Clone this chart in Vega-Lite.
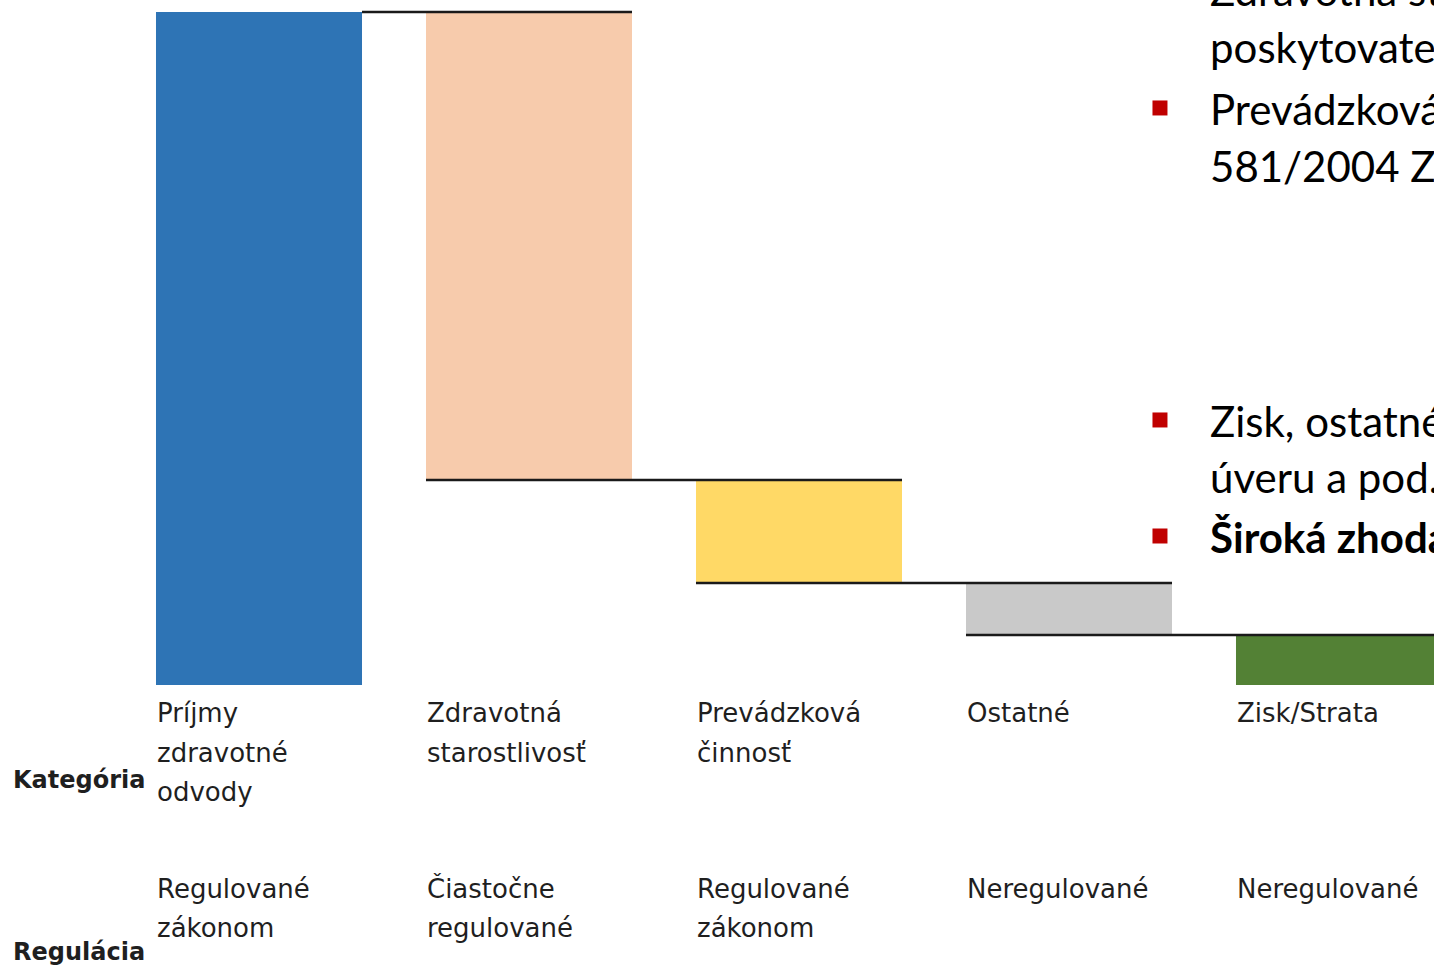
{
  "$schema": "https://vega.github.io/schema/vega-lite/v6.json",
  "width": 1434,
  "height": 966,
  "padding": 0,
  "autosize": {"type": "none"},
  "background": "#ffffff",
  "config": {"view": {"stroke": null}},
  "datasets": {
    "bars": [
      {"cat": "Príjmy", "kat": "Príjmy\nzdravotné\nodvody", "reg": "Regulované\nzákonom", "start": 0, "end": 100},
      {"cat": "Zdravotná", "kat": "Zdravotná\nstarostlivosť", "reg": "Čiastočne\nregulované", "start": 30.46, "end": 100},
      {"cat": "Prevádzková", "kat": "Prevádzková\nčinnosť", "reg": "Regulované\nzákonom", "start": 15.16, "end": 30.46},
      {"cat": "Ostatné", "kat": "Ostatné", "reg": "Neregulované", "start": 7.43, "end": 15.16},
      {"cat": "Zisk/Strata", "kat": "Zisk/Strata", "reg": "Neregulované", "start": 0, "end": 7.43}
    ],
    "links": [
      {"from": "Zdravotná", "to": "Prevádzková", "lvl": 30.46},
      {"from": "Prevádzková", "to": "Ostatné", "lvl": 15.16},
      {"from": "Ostatné", "to": "Zisk/Strata", "lvl": 7.43}
    ],
    "toplink": [
      {"from": "Príjmy", "to": "Zdravotná", "lvl": 100}
    ]
  },
  "layer": [
    {
      "data": {"name": "bars"},
      "mark": {"type": "bar"},
      "encoding": {
        "x": {
          "field": "cat", "type": "nominal",
          "scale": {"domain": ["Príjmy", "Zdravotná", "Prevádzková", "Ostatné", "Zisk/Strata"], "range": [124, 1474], "paddingInner": 0.237, "paddingOuter": 0.1185},
          "axis": null
        },
        "y": {
          "field": "start", "type": "quantitative",
          "scale": {"domain": [0, 100], "range": [685, 12], "nice": false, "zero": false},
          "axis": null
        },
        "y2": {"field": "end"},
        "color": {
          "field": "cat", "type": "nominal",
          "scale": {"domain": ["Príjmy", "Zdravotná", "Prevádzková", "Ostatné", "Zisk/Strata"], "range": ["#2E74B5", "#F7CBAC", "#FFD966", "#C9C9C9", "#538135"]},
          "legend": null
        }
      }
    },
    {
      "data": {"name": "links"},
      "mark": {"type": "rule", "color": "#1a1a1a", "strokeWidth": 2.5},
      "encoding": {
        "x": {"field": "from", "type": "nominal", "bandPosition": 0},
        "x2": {"field": "to", "bandPosition": 1},
        "y": {"field": "lvl", "type": "quantitative"}
      }
    },
    {
      "data": {"name": "toplink"},
      "mark": {"type": "rule", "color": "#1a1a1a", "strokeWidth": 2.5},
      "encoding": {
        "x": {"field": "from", "type": "nominal", "bandPosition": 1},
        "x2": {"field": "to", "bandPosition": 1},
        "y": {"field": "lvl", "type": "quantitative"}
      }
    },
    {
      "data": {"name": "bars"},
      "mark": {"type": "text", "align": "left", "baseline": "alphabetic", "font": "DejaVu Sans", "fontSize": 26, "lineHeight": 39.5, "lineBreak": "\n", "color": "#1f1f1f", "dx": 1},
      "encoding": {
        "x": {"field": "cat", "type": "nominal", "bandPosition": 0},
        "y": {"datum": -5.5, "type": "quantitative"},
        "text": {"field": "kat"}
      }
    },
    {
      "data": {"name": "bars"},
      "mark": {"type": "text", "align": "left", "baseline": "alphabetic", "font": "DejaVu Sans", "fontSize": 26, "lineHeight": 38.5, "lineBreak": "\n", "color": "#1f1f1f", "dx": 1},
      "encoding": {
        "x": {"field": "cat", "type": "nominal", "bandPosition": 0},
        "y": {"datum": -31.65, "type": "quantitative"},
        "text": {"field": "reg"}
      }
    },
    {
      "data": {"values": [{"lab": "Kategória"}]},
      "mark": {"type": "text", "align": "left", "baseline": "alphabetic", "font": "DejaVu Sans", "fontSize": 24, "fontWeight": "bold", "color": "#1f1f1f"},
      "encoding": {
        "x": {"datum": "Príjmy", "type": "nominal", "bandPosition": -0.694},
        "y": {"datum": -15.3, "type": "quantitative"},
        "text": {"field": "lab"}
      }
    },
    {
      "data": {"values": [{"lab": "Regulácia"}]},
      "mark": {"type": "text", "align": "left", "baseline": "alphabetic", "font": "DejaVu Sans", "fontSize": 24, "fontWeight": "bold", "color": "#1f1f1f"},
      "encoding": {
        "x": {"datum": "Príjmy", "type": "nominal", "bandPosition": -0.694},
        "y": {"datum": -40.86, "type": "quantitative"},
        "text": {"field": "lab"}
      }
    },
    {
      "data": {"values": [{"t": "Zdravotná starostlivosť – zmluvy s\nposkytovateľmi"}]},
      "mark": {"type": "text", "align": "left", "baseline": "alphabetic", "font": "Lato", "fontSize": 42, "lineHeight": 57, "lineBreak": "\n", "color": "#000000"},
      "encoding": {
        "x": {"datum": "Zisk/Strata", "type": "nominal", "bandPosition": -0.126},
        "y": {"datum": 100.89, "type": "quantitative"},
        "text": {"field": "t"}
      }
    },
    {
      "data": {"values": [{"t": "Prevádzková činnosť – limit zákona č.\n581/2004 Z. z."}]},
      "mark": {"type": "text", "align": "left", "baseline": "alphabetic", "font": "Lato", "fontSize": 42, "lineHeight": 57, "lineBreak": "\n", "color": "#000000"},
      "encoding": {
        "x": {"datum": "Zisk/Strata", "type": "nominal", "bandPosition": -0.126},
        "y": {"datum": 83.21, "type": "quantitative"},
        "text": {"field": "t"}
      }
    },
    {
      "data": {"values": [{"t": "Zisk, ostatné – napr. splátky\núveru a pod."}]},
      "mark": {"type": "text", "align": "left", "baseline": "alphabetic", "font": "Lato", "fontSize": 42, "lineHeight": 56, "lineBreak": "\n", "color": "#000000"},
      "encoding": {
        "x": {"datum": "Zisk/Strata", "type": "nominal", "bandPosition": -0.126},
        "y": {"datum": 36.85, "type": "quantitative"},
        "text": {"field": "t"}
      }
    },
    {
      "data": {"values": [{"t": "Široká zhoda"}]},
      "mark": {"type": "text", "align": "left", "baseline": "alphabetic", "font": "Lato", "fontSize": 42, "fontWeight": "bold", "color": "#000000"},
      "encoding": {
        "x": {"datum": "Zisk/Strata", "type": "nominal", "bandPosition": -0.126},
        "y": {"datum": 19.61, "type": "quantitative"},
        "text": {"field": "t"}
      }
    },
    {
      "data": {"values": [{"b": 1}]},
      "mark": {"type": "point", "shape": "square", "size": 225, "filled": true, "color": "#C00000", "opacity": 1},
      "encoding": {
        "x": {"datum": "Zisk/Strata", "type": "nominal", "bandPosition": -0.369},
        "y": {"datum": 85.74, "type": "quantitative"}
      }
    },
    {
      "data": {"values": [{"b": 2}]},
      "mark": {"type": "point", "shape": "square", "size": 225, "filled": true, "color": "#C00000", "opacity": 1},
      "encoding": {
        "x": {"datum": "Zisk/Strata", "type": "nominal", "bandPosition": -0.369},
        "y": {"datum": 39.38, "type": "quantitative"}
      }
    },
    {
      "data": {"values": [{"b": 3}]},
      "mark": {"type": "point", "shape": "square", "size": 225, "filled": true, "color": "#C00000", "opacity": 1},
      "encoding": {
        "x": {"datum": "Zisk/Strata", "type": "nominal", "bandPosition": -0.369},
        "y": {"datum": 22.14, "type": "quantitative"}
      }
    }
  ]
}
